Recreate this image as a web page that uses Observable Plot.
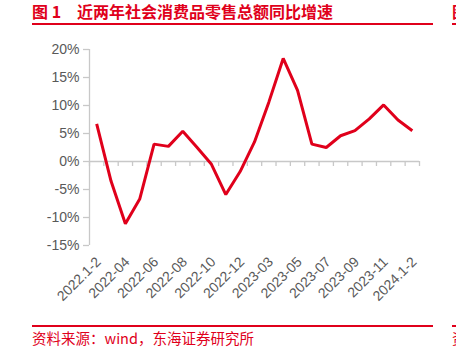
<!DOCTYPE html>
<html><head><meta charset="utf-8">
<script src="https://cdn.jsdelivr.net/npm/d3@7"></script>
<script src="https://cdn.jsdelivr.net/npm/@observablehq/plot@0.6"></script>
<style>
html,body{margin:0;padding:0;background:#fff;}
#wrap{position:relative;width:456px;height:351px;overflow:hidden;font-family:"Noto Sans CJK SC","Liberation Sans",sans-serif;}
#chart{position:absolute;left:0;top:0;}
.t{position:absolute;color:#e0001b;white-space:nowrap;}
.title{font-weight:bold;font-size:16px;top:1px;line-height:20px;}
.cap{font-size:14.5px;top:328px;line-height:20px;}
.hl{position:absolute;background:#e0001b;}
.clip{position:absolute;overflow:hidden;}
</style></head>
<body><div id="wrap">
<div class="t title" style="left:32px;">图 1</div>
<div class="t title" style="left:77px;">近两年社会消费品零售总额同比增速</div>
<div class="clip" style="left:452px;top:0;width:4px;height:351px;"><div class="t title" style="left:0;">图</div><div class="t cap" style="left:0;">资</div></div>
<div class="hl" style="left:32px;top:23px;width:401px;height:2px;"></div>
<div class="hl" style="left:452px;top:23px;width:20px;height:2px;"></div>
<div id="chart"></div>
<div class="hl" style="left:32px;top:325px;width:401px;height:1.5px;"></div>
<div class="hl" style="left:452px;top:325px;width:20px;height:1.5px;"></div>
<div class="t cap" style="left:32px;">资料来源：wind，东海证券研究所</div>
</div>
<script>
const categories = ["2022.1-2","2022-03","2022-04","2022-05","2022-06","2022-07","2022-08","2022-09","2022-10","2022-11","2022-12","2023.1-2","2023-03","2023-04","2023-05","2023-06","2023-07","2023-08","2023-09","2023-10","2023-11","2023-12","2024.1-2"];
const values = [6.7,-3.5,-11.1,-6.7,3.1,2.7,5.4,2.5,-0.5,-5.9,-1.8,3.5,10.6,18.4,12.7,3.1,2.5,4.6,5.5,7.6,10.1,7.4,5.5];
const yTicks = [-15,-10,-5,0,5,10,15,20];
const labelIdx = categories.map((c,i)=>i).filter(i=>i%2===0);

const data = categories.map((c,i)=>({i, c, v: values[i]}));
const bounds = categories.map((c,i)=>i-0.5).concat([categories.length-0.5]);
const red = "#e0001b", axisC = "#c8c8c8", txt = "#595959";

const chart = Plot.plot({
  width: 456, height: 351,
  marginTop: 49, marginBottom: 106, marginLeft: 89, marginRight: 37,
  style: {fontFamily: "'Liberation Sans', Arial, sans-serif", background: "transparent"},
  x: {type: "linear", domain: [-0.5, categories.length-0.5]},
  y: {domain: [-15, 20]},
  marks: [
    Plot.ruleY([0], {stroke: axisC, strokeWidth: 1.3}),
    Plot.ruleX(bounds, {y1: 0, y2: 0, insetBottom: -5, stroke: axisC, strokeWidth: 1.3}),
    Plot.ruleX([-0.5], {y1: -15, y2: 20, stroke: axisC, strokeWidth: 1.3}),
    Plot.axisY({ticks: yTicks, tickFormat: d => d + "%", tickSize: 6, tickPadding: 4, fontSize: 14, color: txt, stroke: axisC, strokeWidth: 1.3, label: null}),
    Plot.axisX({ticks: labelIdx, tickFormat: i => categories[i], tickRotate: -45, tickSize: 0, tickPadding: 14, dx: 2, fontSize: 14, color: txt, label: null}),
    Plot.line(data, {x: "i", y: "v", stroke: red, strokeWidth: 3, strokeLinejoin: "miter", strokeLinecap: "butt"})
  ]
});
document.getElementById("chart").appendChild(chart);
</script>
</body></html>
